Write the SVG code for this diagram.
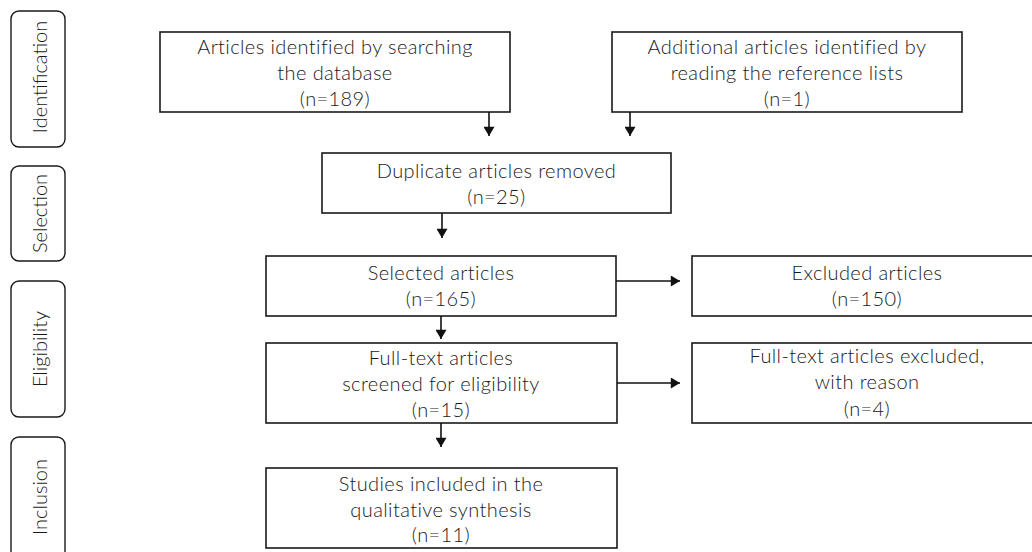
<svg xmlns="http://www.w3.org/2000/svg" width="1032" height="552" viewBox="0 0 1032 552">
<defs>
<style>
.box{fill:#fff;stroke:#1a1a1a;stroke-width:1.6}
.side{fill:#fff;stroke:#1a1a1a;stroke-width:1.4}
.t{font-family:Lato,"Open Sans","Liberation Sans",sans-serif;font-weight:300;font-size:20px;letter-spacing:0.4px;fill:#1a1a1a;text-anchor:middle}
.s{font-family:Lato,"Open Sans","Liberation Sans",sans-serif;font-weight:300;font-size:20px;letter-spacing:0px;fill:#1a1a1a;text-anchor:middle}
.c{stroke:#111;stroke-width:1.6;fill:none;marker-end:url(#ah)}
</style>
<marker id="ah" viewBox="0 0 10 12" refX="10" refY="6" markerWidth="12" markerHeight="11" markerUnits="userSpaceOnUse" orient="auto">
<path d="M0,0 L10,6 L0,12 z" fill="#111"/>
</marker>
</defs>
<rect width="1032" height="552" fill="#fff"/>
<g id="side-identification"><rect class="side" x="11" y="11" width="54" height="136" rx="8"/><text class="s" transform="translate(47,77) rotate(-90)">Identification</text></g>
<g id="side-selection"><rect class="side" x="11" y="166" width="54" height="95" rx="8"/><text class="s" transform="translate(47,213.5) rotate(-90)">Selection</text></g>
<g id="side-eligibility"><rect class="side" x="11" y="281" width="54" height="136" rx="8"/><text class="s" transform="translate(47,349) rotate(-90)">Eligibility</text></g>
<g id="side-inclusion"><rect class="side" x="11" y="437" width="54" height="140" rx="8"/><text class="s" transform="translate(47,497) rotate(-90)">Inclusion</text></g>

<g id="n-database"><rect class="box" x="160" y="32" width="350" height="80"/>
<text class="t" x="335" y="54">Articles identified by searching</text>
<text class="t" x="335" y="80">the database</text>
<text class="t" x="335" y="106">(n=189)</text></g>
<g id="n-additional"><rect class="box" x="612" y="32" width="350" height="80"/>
<text class="t" x="787" y="54">Additional articles identified by</text>
<text class="t" x="787" y="80">reading the reference lists</text>
<text class="t" x="787" y="106">(n=1)</text></g>
<g id="n-duplicate"><rect class="box" x="322" y="153" width="349" height="60"/>
<text class="t" x="496.5" y="178">Duplicate articles removed</text>
<text class="t" x="496.5" y="204">(n=25)</text></g>
<g id="n-selected"><rect class="box" x="266" y="256" width="350" height="60"/>
<text class="t" x="441" y="280">Selected articles</text>
<text class="t" x="441" y="306">(n=165)</text></g>
<g id="n-excluded"><rect class="box" x="692" y="256" width="350" height="60"/>
<text class="t" x="867" y="280">Excluded articles</text>
<text class="t" x="867" y="306">(n=150)</text></g>
<g id="n-fulltext"><rect class="box" x="266" y="343" width="351" height="80"/>
<text class="t" x="441" y="365">Full-text articles</text>
<text class="t" x="441" y="391">screened for eligibility</text>
<text class="t" x="441" y="417">(n=15)</text></g>
<g id="n-fulltext-excluded"><rect class="box" x="692" y="343" width="350" height="80"/>
<text class="t" x="867" y="363">Full-text articles excluded,</text>
<text class="t" x="867" y="389">with reason</text>
<text class="t" x="867" y="416">(n=4)</text></g>
<g id="n-included"><rect class="box" x="266" y="468" width="351" height="80"/>
<text class="t" x="441" y="491">Studies included in the</text>
<text class="t" x="441" y="517">qualitative synthesis</text>
<text class="t" x="441" y="542">(n=11)</text></g>

<g id="connectors">
<line class="c" x1="489" y1="112" x2="489" y2="136"/>
<line class="c" x1="630" y1="112" x2="630" y2="136"/>
<line class="c" x1="442" y1="213" x2="442" y2="238"/>
<line class="c" x1="441" y1="316" x2="441" y2="339"/>
<line class="c" x1="441" y1="423" x2="441" y2="447"/>
<line class="c" x1="616" y1="281" x2="680" y2="281"/>
<line class="c" x1="617" y1="383" x2="680" y2="383"/>
</g>
</svg>
